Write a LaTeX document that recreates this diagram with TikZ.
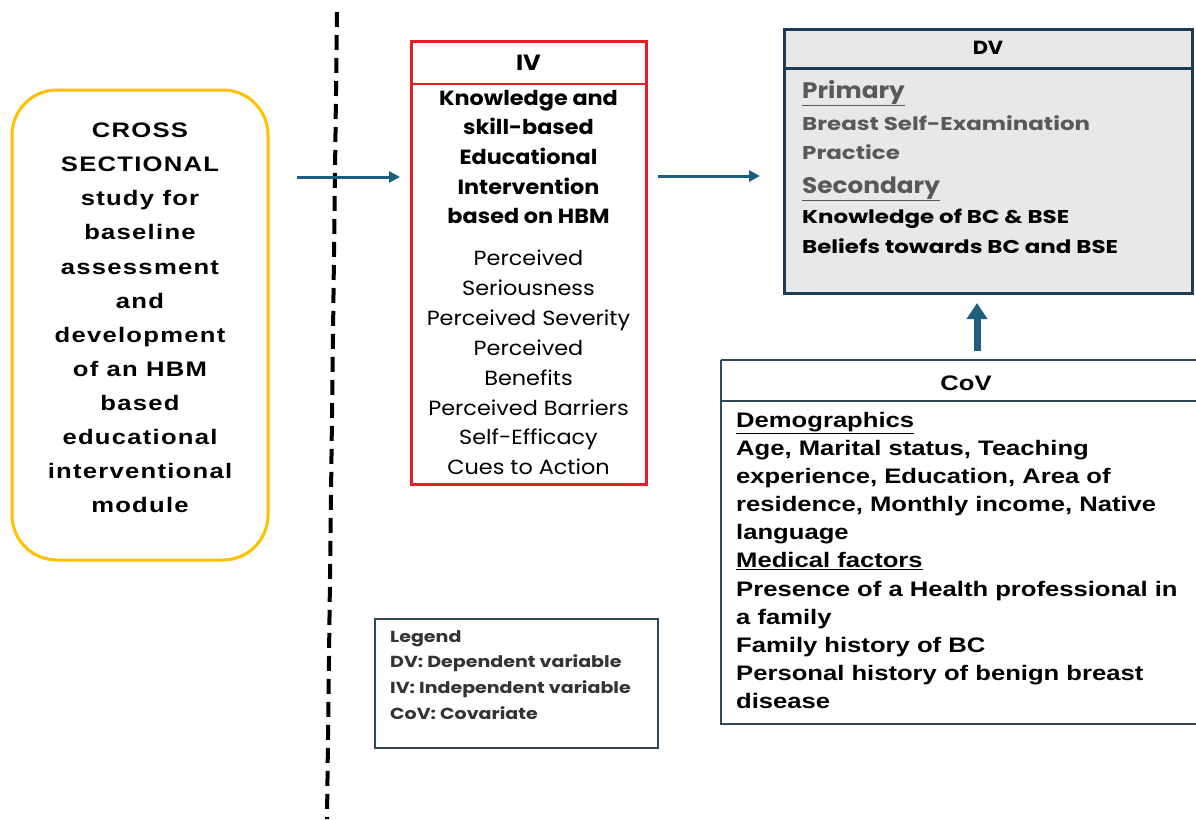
\documentclass[tikz,border=0pt]{standalone}
\usepackage{fontspec}
\setmainfont{Poppins}
% widened faces for the individual panels
\newfontfamily\crossfont[FakeStretch=1.22,LetterSpace=6]{Liberation Sans}
\newfontfamily\covfont[FakeStretch=1.22]{Liberation Sans}
\newfontfamily\ivfont[FakeStretch=1.09]{Poppins}
\newfontfamily\headfont[FakeStretch=1.1]{Poppins}
\newfontfamily\dvfont[FakeStretch=1.24]{Poppins}
\newfontfamily\legfont[FakeStretch=1.19]{Poppins}
\usetikzlibrary{arrows.meta}
\definecolor{flowblue}{HTML}{1F5E7F}
\definecolor{boxred}{HTML}{E31E24}
\definecolor{boxyellow}{HTML}{FFC000}
\definecolor{dvframe}{HTML}{1F3B52}
\definecolor{dvfill}{HTML}{E8E8E8}
\definecolor{covframe}{HTML}{2F4858}
\definecolor{softgray}{HTML}{595959}
\definecolor{legendtext}{HTML}{333333}
\begin{document}
\begin{tikzpicture}[x=1pt,y=-1pt,
  flow/.style={draw=flowblue,line width=3pt,-{Triangle[length=11pt,width=11pt]}},
  txt/.style={inner sep=0pt,align=center},
  lefttxt/.style={inner sep=0pt,align=left,anchor=north west},
  dvline/.style={inner sep=0pt,anchor=base west}]
\useasboundingbox[fill=white] (0,0) rectangle (1196,819);

% study design box
\draw[boxyellow,line width=3pt,rounded corners=45pt] (12,90) rectangle (268,560);
\node[txt,font=\crossfont\fontsize{21}{34.1}\selectfont\bfseries] (cross) at (140,318)
  {CROSS\\SECTIONAL\\study for\\baseline\\assessment\\and\\development\\of an HBM\\based\\educational\\interventional\\module};

% phase divider
\coordinate (dtop) at (337,12);
\coordinate (dbot) at (327,819);
\draw[black,line width=4pt,dash pattern=on 15pt off 8pt] (dtop) -- (dbot);

% independent variable box
\draw[boxred,line width=3pt] (411,41) rectangle (646,484);
\draw[boxred,line width=2pt] (411,84) -- (646,84);
\node[txt,font=\headfont\fontsize{22}{23}\selectfont\bfseries] (ivh) at (528.5,63) {IV};
\node[txt,font=\ivfont\fontsize{20.5}{29.7}\selectfont\bfseries] (ivb) at (528.5,157)
  {Knowledge and\\skill-based\\Educational\\Intervention\\based on HBM};
\node[txt,font=\ivfont\fontsize{20.5}{29.9}\selectfont] (ivc) at (528.5,362.5)
  {Perceived\\Seriousness\\Perceived Severity\\Perceived\\Benefits\\Perceived Barriers\\Self-Efficacy\\Cues to Action};

% dependent variable box
\draw[dvframe,line width=3pt,fill=dvfill] (784,29) rectangle (1192,293);
\draw[dvframe,line width=3pt] (784,68) -- (1192,68);
\node[txt,font=\headfont\fontsize{19}{20}\selectfont\bfseries] (dvh) at (988,48) {DV};
\node[dvline,text=softgray,font=\headfont\fontsize{22.5}{24}\selectfont\bfseries] (prim) at (802,98) {\underline{Primary}};
\node[dvline,text=softgray,font=\dvfont\fontsize{18.5}{20}\selectfont\bfseries] (bse) at (802,130) {Breast Self-Examination};
\node[dvline,text=softgray,font=\dvfont\fontsize{18.5}{20}\selectfont\bfseries] (prac) at (802,159) {Practice};
\node[dvline,text=softgray,font=\headfont\fontsize{22.5}{24}\selectfont\bfseries] (sec) at (802,193) {\underline{Secondary}};
\node[dvline,font=\dvfont\fontsize{18.5}{20}\selectfont\bfseries] (know) at (802,223) {Knowledge of BC \& BSE};
\node[dvline,font=\dvfont\fontsize{18.5}{20}\selectfont\bfseries] (bel) at (802,253) {Beliefs towards BC and BSE};

% covariates box
\draw[covframe,line width=2pt] (721,360) -- (1196,360);
\draw[covframe,line width=2pt] (721,360) -- (721,724) -- (1196,724);
\draw[covframe,line width=2pt] (721,401) -- (1196,401);
\node[txt,font=\covfont\fontsize{21}{22}\selectfont\bfseries] (covh) at (966,383) {CoV};
\node[lefttxt,font=\covfont\fontsize{21}{28.1}\selectfont\bfseries] (covb) at (736,412)
  {\underline{Demographics}\\
   Age, Marital status, Teaching\\
   experience, Education, Area of\\
   residence, Monthly income, Native\\
   language\\
   \underline{Medical factors}\\
   Presence of a Health professional in\\
   a family\\
   Family history of BC\\
   Personal history of benign breast\\
   disease};

% legend
\draw[covframe,line width=1.5pt] (375,619) rectangle (658,748);
\node[lefttxt,font=\legfont\fontsize{16}{25.7}\selectfont\bfseries,text=legendtext] (leg) at (390,630)
  {Legend\\DV: Dependent variable\\IV: Independent variable\\CoV: Covariate};

% connectors
\coordinate (a1s) at (297,177);
\coordinate (a1e) at (400,177);
\draw[flow] (a1s) -- (a1e);
\coordinate (a2s) at (658,176);
\coordinate (a2e) at (760,176);
\draw[flow] (a2s) -- (a2e);
\coordinate (a3s) at (977,351);
\coordinate (a3e) at (977,303);
\draw[draw=flowblue,line width=7pt,-{Triangle[length=16pt,width=20pt]}] (a3s) -- (a3e);
\end{tikzpicture}
\end{document}
